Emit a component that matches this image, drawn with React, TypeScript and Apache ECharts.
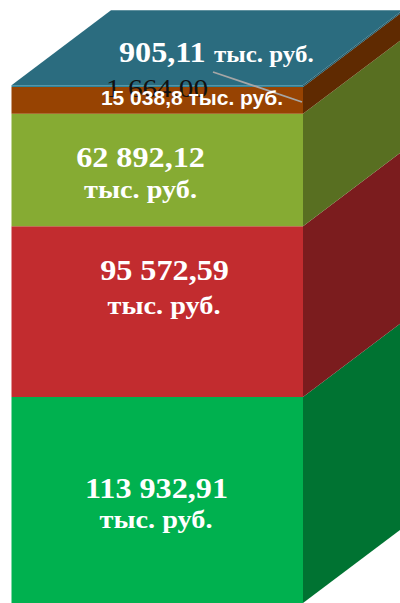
import React, { useEffect, useRef } from "react";
import * as echarts from "echarts";

const categories = ["Всего"];
const blockValues = [113932.91, 95572.59, 62892.12, 15038.8, 905.11];
const frontColors = ["#00B14F", "#C22C2F", "#86AB33", "#974302", "#31859C"];
const sideColors = ["#007332", "#7B1C1E", "#586F21", "#5F2A01", "#1F5766"];
const topColor = "#2B6C7F";
const valueLabels = ["113 932,91", "95 572,59", "62 892,12"];
const unitLabel = "тыс. руб.";
const topValueLabel = "905,11";
const orangeLabel = "15 038,8 тыс. руб.";
const strayLabel = "1 664,00";
const axisMin = -1350;
const axisMax = 288500;

const SERIF = '"Liberation Serif", serif';
const DX = 99.5;
const DY = 75;

function serifText(text: string, cx: number, baseline: number, size: number, scaleX: number, fill = "#fff", weight: any = "bold", align = "center") {
  return {
    type: "text",
    x: cx,
    y: baseline,
    scaleX,
    z: 100,
    silent: true,
    style: {
      text,
      fill,
      fontFamily: SERIF,
      fontWeight: weight,
      fontSize: size,
      align,
      verticalAlign: "bottom",
    },
  };
}

export default function App() {
  const ref = useRef<HTMLDivElement>(null);
  useEffect(() => {
    document.body.style.margin = "0";
    const chart = echarts.init(ref.current!, undefined, { renderer: "svg" });
    const rows: any[] = [];
    let running = 0;
    blockValues.forEach((v, i) => {
      const start = i === 0 ? axisMin : running;
      running += v;
      rows.push([categories[0], start, running, i]);
    });
    chart.setOption({
      animation: false,
      backgroundColor: "#fff",
      grid: { left: 11.5, width: 291.5, top: 85, height: 518 },
      xAxis: { type: "category", data: categories, show: false },
      yAxis: { type: "value", min: axisMin, max: axisMax, show: false },
      series: [
        {
          type: "custom",
          clip: false,
          silent: true,
          data: rows,
          encode: { x: 0, y: [1, 2] },
          renderItem: (_p: any, api: any) => {
            const idx = api.value(3);
            const low = api.coord([0, api.value(1)]);
            const high = api.coord([0, api.value(2)]);
            const w = api.size([1, 0])[0];
            const x0 = low[0] - w / 2;
            const x1 = x0 + w;
            const children: any[] = [
              {
                type: "polygon",
                shape: { points: [[x1, low[1]], [x1 + DX, low[1] - DY], [x1 + DX, high[1] - DY], [x1, high[1]]] },
                style: { fill: sideColors[idx] },
              },
              {
                type: "rect",
                shape: { x: x0, y: high[1], width: w, height: low[1] - high[1] },
                style: { fill: frontColors[idx] },
              },
            ];
            if (idx === blockValues.length - 1) {
              children.push({
                type: "polygon",
                shape: { points: [[x0, high[1]], [x1, high[1]], [x1 + DX, high[1] - DY], [x0 + DX, high[1] - DY]] },
                style: { fill: topColor },
              });
            }
            return { type: "group", children };
          },
        },
      ],
      graphic: {
        elements: [
          serifText(strayLabel, 157, 101, 26, 1.12, "#111", "normal"),
          {
            type: "line",
            z: 100,
            silent: true,
            shape: { x1: 213, y1: 72, x2: 302, y2: 102 },
            style: { stroke: "#A6A6A6", lineWidth: 1.8 },
          },
          {
            type: "text",
            x: 192,
            y: 108,
            z: 100,
            silent: true,
            style: {
              text: orangeLabel,
              fill: "#fff",
              fontFamily: '"Liberation Sans", sans-serif',
              fontWeight: "bold",
              fontSize: 21,
              align: "center",
              verticalAlign: "bottom",
            },
          },
          serifText(topValueLabel, 119, 67.5, 29, 1.11, "#fff", "bold", "left"),
          serifText(unitLabel, 214, 66, 22.5, 1.11, "#fff", "bold", "left"),
          serifText(valueLabels[2], 140.5, 172.5, 29, 1.11),
          serifText(unitLabel, 140.5, 202.5, 25.5, 1.11),
          serifText(valueLabels[1], 164.5, 285.5, 29, 1.11),
          serifText(unitLabel, 164, 318.5, 25.5, 1.11),
          serifText(valueLabels[0], 156.5, 503.5, 29, 1.11),
          serifText(unitLabel, 156, 532.5, 25.5, 1.11),
        ],
      },
    });
    return () => chart.dispose();
  }, []);
  return <div ref={ref} style={{ width: 400, height: 603 }} />;
}
